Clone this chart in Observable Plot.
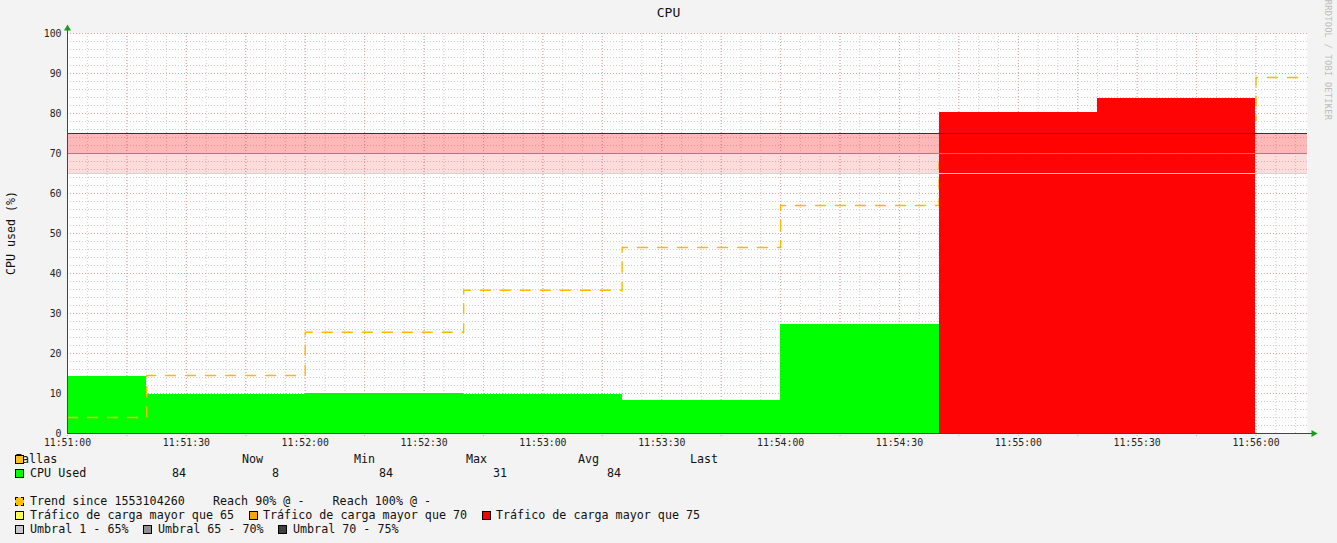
<!DOCTYPE html>
<html><head><meta charset="utf-8">
<script src="https://cdn.jsdelivr.net/npm/d3@7"></script>
<script src="https://cdn.jsdelivr.net/npm/@observablehq/plot@0.6"></script>
<style>
body{margin:0;background:#f3f3f3;width:1337px;height:543px;position:relative;overflow:hidden;font-family:"DejaVu Sans Mono",monospace;color:#111;}
#title{position:absolute;top:5px;left:0;width:1337px;text-align:center;font-size:13px;line-height:16px;}
#chart{position:absolute;top:22px;left:0;}
#ylab{position:absolute;left:11px;top:233px;transform:translate(-50%,-50%) rotate(-90deg);white-space:nowrap;font-size:11.6px;}
#wm{position:absolute;left:1328px;top:60px;transform:translate(-50%,-50%) rotate(90deg);white-space:nowrap;font-size:8.6px;color:#bdbdbd;letter-spacing:0.3px;}
.lg{position:absolute;font-size:11.7px;white-space:pre;line-height:14px;}
.sw{position:absolute;width:7px;height:7px;border:1px solid #000;}
</style></head>
<body>
<div id="title">CPU</div>
<div id="ylab">CPU used (%)</div>
<div id="wm">RRDTOOL / TOBI OETIKER</div>
<div id="chart"></div>
<div id="legend"></div>
<script>
// ---- data ----
const segStart = ["11:51:00","11:51:20","11:52:00","11:52:40","11:53:20","11:54:00","11:54:40","11:55:20"];
const segEnd   = ["11:51:20","11:52:00","11:52:40","11:53:20","11:54:00","11:54:40","11:55:20","11:56:00"];
const cpuUsed  = [14.2, 9.7, 10.0, 9.8, 8.2, 27.3, 80.3, 83.8];
const trendTimes  = ["11:51:00","11:51:20","11:52:00","11:52:40","11:53:20","11:54:00","11:54:40","11:55:20","11:56:00","11:56:13"];
const trendValues = [4.0, 14.5, 25.3, 35.8, 46.5, 57.0, 67.7, 78.3, 89.0, 89.0];
const bandLow  = [65, 70];
const bandHigh = [70, 75];
const thresholds = [65, 70, 75];
const xTickLabels = ["11:51:00","11:51:30","11:52:00","11:52:30","11:53:00","11:53:30","11:54:00","11:54:30","11:55:00","11:55:30","11:56:00"];
const yTickLabels = [0,10,20,30,40,50,60,70,80,90,100];
const xStart = "11:51:00", xEnd = "11:56:13";
const legendHeaders = ["Now","Min","Max","Avg","Last"];
const legendValues = ["84","8","84","31","84"];

const T = s => new Date(`2019-03-20T${s}`);
const segs = segStart.map((s,i)=>({x1:T(s), x2:T(segEnd[i]), v:cpuUsed[i]}));
const greenSegs = segs.filter(d=>d.v<=75);
const redSegs = segs.filter(d=>d.v>75);
const trend = trendTimes.map((t,i)=>({t:T(t), v:trendValues[i]}));
const bands = bandLow.map((lo,i)=>({lo, hi:bandHigh[i]}));
const t0 = T(xStart), t1 = T(xEnd);
const sec = s => new Date(+t0 + s*1000);
const minorX = d3.range(0, 314, 5).map(sec);
const majorX = d3.range(0, 314, 15).map(sec);
const minorY = d3.range(0, 101, 2);
const majorY = d3.range(0, 101, 10);
const xTicks = xTickLabels.map(T);

const chart = Plot.plot({
  width: 1337, height: 433,
  marginTop: 11, marginBottom: 22, marginLeft: 67, marginRight: 30,
  style: {background: "transparent", fontFamily: "DejaVu Sans Mono, monospace", fontSize: "9.8px", color: "#222"},
  x: {type: "time", domain: [t0, t1]},
  y: {domain: [0, 100]},
  marks: [
    Plot.frame({fill: "white", stroke: null}),
    Plot.ruleY(minorY, {stroke: "#cdcdcd", strokeDasharray: "1,2"}),
    Plot.ruleX(minorX, {stroke: "#cdcdcd", strokeDasharray: "1,2"}),
    Plot.ruleY(majorY, {stroke: "#e0a3a3", strokeDasharray: "1,2"}),
    Plot.ruleX(majorX, {stroke: "#e0a3a3", strokeDasharray: "1,2", insetBottom: -4}),
    Plot.rectY(greenSegs, {x1: "x1", x2: "x2", y: "v", fill: "#00ff00", shapeRendering: "crispEdges"}),
    Plot.line(trend, {x: "t", y: "v", curve: "step-after", stroke: "#ffb800", strokeWidth: 1.4, strokeDasharray: "10,10"}),
    Plot.rect(bands.slice(0,1), {y1: "lo", y2: "hi", fill: "#ff0000", fillOpacity: 0.137}),
    Plot.rect(bands.slice(1,2), {y1: "lo", y2: "hi", fill: "#ff0000", fillOpacity: 0.28}),
    Plot.rectY(redSegs, {x1: "x1", x2: "x2", y: "v", fill: "#ff0000", fillOpacity: 0.985, shapeRendering: "crispEdges"}),
    Plot.ruleY(thresholds.slice(0,1), {stroke: "#d4d4d4"}),
    Plot.ruleY(thresholds.slice(1,2), {stroke: "#8a8a8a"}),
    Plot.ruleY(thresholds.slice(2,3), {stroke: "#333"}),
    Plot.ruleY([0], {stroke: "#444", insetRight: -5}),
    Plot.ruleX([t0], {stroke: "#444", insetTop: -5}),
    Plot.dot([{x: t1, y: 0}], {x: "x", y: "y", symbol: "triangle", r: 2.6, fill: "#1a9e1a", stroke: null, rotate: 90, dx: 6}),
    Plot.dot([{x: t0, y: 100}], {x: "x", y: "y", symbol: "triangle", r: 2.6, fill: "#1a9e1a", stroke: null, dy: -5}),
    Plot.axisX({ticks: xTicks, tickSize: 0, tickPadding: 6, tickFormat: (d,i)=>xTickLabels[i], label: null, fill: "#222"}),
    Plot.axisY({ticks: yTickLabels, tickSize: 0, tickPadding: 6, tickFormat: d=>String(d), label: null, fill: "#222"})
  ]
});
document.getElementById("chart").appendChild(chart);

// ---- legend ----
const lg = document.getElementById("legend");
function txt(s, x, cy){ const e=document.createElement("div"); e.className="lg"; e.textContent=s; e.style.left=x+"px"; e.style.top=(cy-7)+"px"; lg.appendChild(e); }
function sw(color, x, cy, dashed){ const e=document.createElement("div"); e.className="sw"; e.style.background=color; e.style.left=x+"px"; e.style.top=(cy-4)+"px"; if(dashed){e.style.borderStyle="dashed";} lg.appendChild(e); }
txt("Fallas", 15, 459); sw("#ffc31a", 15, 459);
const hx = [242, 354, 466, 578, 690];
legendHeaders.forEach((h,i)=>txt(h, hx[i], 459));
sw("#00ff00", 15, 473); txt("CPU Used", 30, 473);
const vx = [172, 272, 379, 493, 607];
legendValues.forEach((v,i)=>txt(v, vx[i], 473));
sw("#ffc000", 15, 501, true); txt("Trend since 1553104260    Reach 90% @ -    Reach 100% @ -", 30, 501);
sw("#ffff50", 15, 515); txt("Tráfico de carga mayor que 65", 30, 515);
sw("#ffa500", 249, 515); txt("Tráfico de carga mayor que 70", 263, 515);
sw("#ff0000", 482, 515); txt("Tráfico de carga mayor que 75", 496, 515);
sw("#c8c8c8", 15, 529); txt("Umbral 1 - 65%", 30, 529);
sw("#909090", 143, 529); txt("Umbral 65 - 70%", 158, 529);
sw("#404040", 278, 529); txt("Umbral 70 - 75%", 293, 529);
</script>
</body></html>
